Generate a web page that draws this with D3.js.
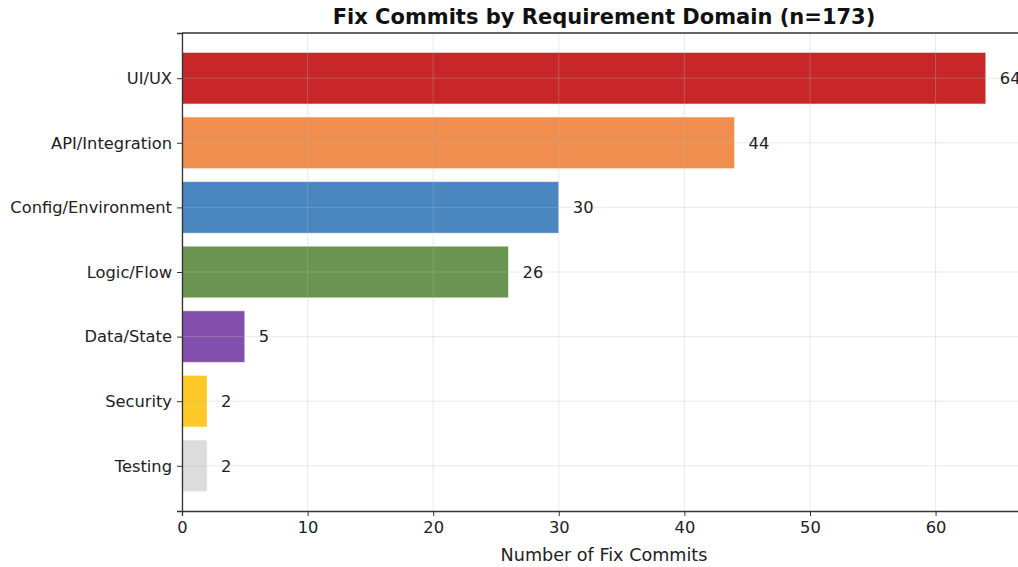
<!DOCTYPE html>
<html><head><meta charset="utf-8">
<script src="https://cdn.jsdelivr.net/npm/d3@7"></script>
<style>body{margin:0;background:#fff;} svg{display:block;} text{font-family:"DejaVu Sans",sans-serif;}</style>
</head><body>
<svg id="c" width="1018" height="567"></svg>
<script>
const categories = ["UI/UX","API/Integration","Config/Environment","Logic/Flow","Data/State","Security","Testing"];
const values = [64,44,30,26,5,2,2];
const colors = ["#c8272a","#ef8e4e","#4a86c0","#6a9550","#8350ad","#ffc928","#dcdcdc"];
const xTicks = [0,10,20,30,40,50,60];
const titleText = "Fix Commits by Requirement Domain (n=173)";
const xLabel = "Number of Fix Commits";

const svg = d3.select("#c");
const L = 182, R = 1026, T = 33, B = 511;
const x = d3.scaleLinear().domain([0, 64*1.05]).range([L, R]);
const n = categories.length;
const y = d3.scaleLinear().domain([n - 1 + 0.7, -0.7]).range([T, B]);
const pos = i => n - 1 - i;
const bh = y(0) - y(0.8);

// bars
svg.append("g").selectAll("rect").data(values).join("rect")
  .attr("x", x(0)).attr("y", (d,i) => y(pos(i) + 0.4))
  .attr("width", d => x(d) - x(0)).attr("height", bh)
  .attr("fill", (d,i) => colors[i])
  .attr("stroke", "#fff").attr("stroke-opacity", 0.6).attr("stroke-width", 1);

// grid (drawn over bars, faint)
const g = svg.append("g").attr("stroke", "#bbb").attr("stroke-opacity", 0.3).attr("stroke-width", 1);
g.selectAll("line.vx").data(xTicks).join("line")
  .attr("x1", d => x(d)).attr("x2", d => x(d)).attr("y1", T).attr("y2", B);
g.selectAll("line.hy").data(categories).join("line")
  .attr("x1", L).attr("x2", R).attr("y1", (d,i) => y(pos(i))).attr("y2", (d,i) => y(pos(i)));

// value labels
svg.append("g").selectAll("text").data(values).join("text")
  .attr("x", d => x(d) + 14).attr("y", (d,i) => y(pos(i)))
  .attr("dy", "0.36em").attr("font-size", 16.3).attr("fill", "#222")
  .text(d => d);

// axes
const xAxis = d3.axisBottom(x).tickValues(xTicks).tickSize(5).tickPadding(5);
const ax = svg.append("g").attr("transform", `translate(0,${B})`).call(xAxis);
ax.select(".domain").attr("stroke", "#333").attr("stroke-width", 1.3);
ax.selectAll(".tick line").attr("stroke", "#333");
ax.selectAll(".tick text").attr("font-size", 16.3).attr("fill", "#222").attr("font-family", "DejaVu Sans");

const yAxis = d3.axisLeft(y).tickValues(categories.map((c,i)=>pos(i))).tickFormat(p => categories[n-1-p]).tickSize(5).tickPadding(5);
const ay = svg.append("g").attr("transform", `translate(${L},0)`).call(yAxis);
ay.select(".domain").attr("stroke", "#333").attr("stroke-width", 1.3);
ay.selectAll(".tick line").attr("stroke", "#333");
ay.selectAll(".tick text").attr("font-size", 16.3).attr("fill", "#222").attr("font-family", "DejaVu Sans");

// top spine
svg.append("line").attr("x1", L).attr("x2", R).attr("y1", T).attr("y2", T).attr("stroke", "#333").attr("stroke-width", 1.3);

// title and label
svg.append("text").attr("x", (L+R)/2).attr("y", 24).attr("text-anchor", "middle")
  .attr("font-size", 21).attr("font-weight", "bold").attr("fill", "#111").text(titleText);
svg.append("text").attr("x", (L+R)/2).attr("y", 561).attr("text-anchor", "middle")
  .attr("font-size", 17.6).attr("fill", "#222").text(xLabel);
</script>
</body></html>
